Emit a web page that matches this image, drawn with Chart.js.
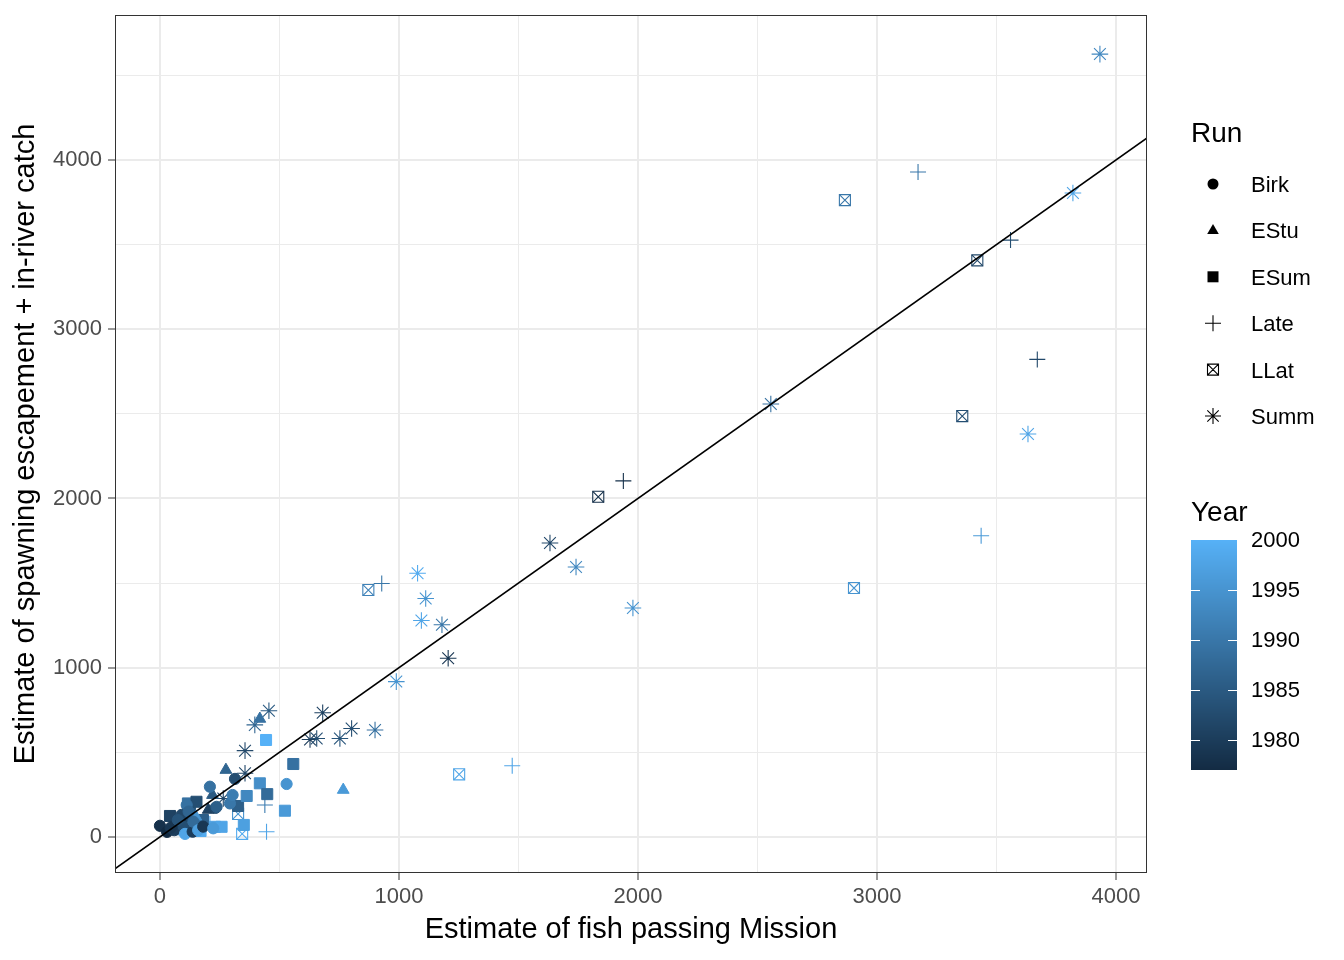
<!DOCTYPE html>
<html>
<head>
<meta charset="utf-8">
<script src="https://cdn.jsdelivr.net/npm/chart.js@4.4.1/dist/chart.umd.min.js"></script>
<style>
  html, body { margin: 0; padding: 0; background: #fff; }
  #wrap { width: 1344px; height: 960px; }
</style>
</head>
<body>
<div id="wrap"><canvas id="mychart" width="1344" height="960"></canvas></div>
<script>
// data: mission estimate, spawning estimate, year

const runNames = ["Birk", "EStu", "ESum", "Late", "LLat", "Summ"];

const birkMission = [0, 30, 60, 90, 100, 105, 112, 137, 140, 160, 181, 209, 223, 233, 237, 293, 304, 314, 530, 45, 75, 120];
const birkSpawn = [66, 30, 40, 130, 60, 18, 189, 31, 90, 40, 61, 297, 51, 172, 178, 198, 248, 343, 313, 55, 100, 150];
const birkYear = [1978, 1977, 1980, 1982, 1983, 1998, 1989, 1980, 1988, 1997, 1979, 1989, 1996, 1982, 1986, 1990, 1991, 1983, 1995, 1979, 1984, 1987];

const estuMission = [84, 150, 202, 220, 276, 418, 767];
const estuSpawn = [112, 120, 160, 248, 396, 698, 278];
const estuYear = [1979, 1995, 1981, 1985, 1987, 1989, 1996];

const esumMission = [42, 63, 80, 112, 117, 126, 153, 180, 230, 258, 327, 351, 363, 418, 444, 449, 523, 558, 95, 170];
const esumSpawn = [124, 61, 90, 120, 198, 148, 208, 100, 60, 60, 183, 71, 242, 317, 573, 253, 155, 431, 45, 35];
const esumYear = [1981, 1980, 1985, 1982, 1989, 1984, 1983, 1986, 1997, 1998, 1986, 1997, 1993, 1994, 2000, 1988, 1996, 1989, 1994, 1999];

const lateMission = [209, 439, 446, 928, 1474, 1939, 3172, 3436, 3559, 3671];
const lateSpawn = [77, 189, 31, 1498, 421, 2104, 3929, 1780, 3527, 2822];
const lateYear = [1998, 1991, 1998, 1990, 1998, 1978, 1990, 1996, 1983, 1982];

const llatMission = [327, 344, 872, 1252, 1834, 2866, 2904, 3357, 3420];
const llatSpawn = [136, 18, 1459, 370, 2010, 3763, 1471, 2487, 3407];
const llatYear = [1995, 1999, 1992, 1998, 1978, 1990, 1995, 1983, 1982];

const summMission = [265, 356, 356, 397, 456, 628, 656, 681, 753, 802, 900, 989, 1078, 1094, 1112, 1180, 1206, 1632, 1741, 1979, 2556, 3632, 3820, 3933];
const summSpawn = [227, 376, 510, 662, 746, 576, 582, 734, 582, 641, 632, 918, 1558, 1279, 1409, 1254, 1056, 1737, 1595, 1353, 2558, 2381, 3805, 4626];
const summYear = [1982, 1982, 1982, 1987, 1985, 1980, 1983, 1981, 1984, 1983, 1989, 1995, 1999, 1998, 1995, 1990, 1979, 1982, 1993, 1995, 1989, 1998, 1998, 1993];

const refLine = [-300, 4300]; // y = x
const xTicks = [0, 1000, 2000, 3000, 4000];
const yTicks = [0, 1000, 2000, 3000, 4000];
const xGrid = [0, 500, 1000, 1500, 2000, 2500, 3000, 3500, 4000];
const yGrid = [0, 500, 1000, 1500, 2000, 2500, 3000, 3500, 4000, 4500];
const yearTicks = [1980, 1985, 1990, 1995, 2000];
const yearMin = 1977;
const yearMax = 2000;

// colour scale
const lowColor = [0x13, 0x2b, 0x43];
const highColor = [0x56, 0xb1, 0xf7];

function yearColor(yr) {
  let t = (yr - yearMin) / (yearMax - yearMin);
  t = Math.max(0, Math.min(1, t));
  const c = lowColor.map((v, k) => Math.round(v + (highColor[k] - v) * t));
  return "rgb(" + c[0] + "," + c[1] + "," + c[2] + ")";
}

function toPoints(xs, ys) {
  return xs.map((x, i) => ({ x: x, y: ys[i] }));
}

function runDataset(xs, ys, years, style, radius, filled) {
  return {
    data: toPoints(xs, ys),
    pointStyle: style,
    pointRadius: radius,
    pointBorderWidth: filled ? 1 : 1.1,
    pointBackgroundColor: filled ? (c) => yearColor(years[c.dataIndex]) : "rgba(0,0,0,0)",
    pointBorderColor: (c) => yearColor(years[c.dataIndex]),
    showLine: false,
  };
}

const FONT = "'Liberation Sans', Arial, sans-serif";

function drawSymbol(ctx, name, x, y, color) {
  ctx.save();
  ctx.fillStyle = color;
  ctx.strokeStyle = color;
  ctx.lineWidth = 1.1;
  ctx.beginPath();
  if (name === "Birk") {
    ctx.arc(x, y, 5.5, 0, Math.PI * 2);
    ctx.fill();
  } else if (name === "EStu") {
    ctx.moveTo(x, y - 6.5);
    ctx.lineTo(x + 5.8, y + 3.5);
    ctx.lineTo(x - 5.8, y + 3.5);
    ctx.closePath();
    ctx.fill();
  } else if (name === "ESum") {
    ctx.rect(x - 5.5, y - 5.5, 11, 11);
    ctx.fill();
  } else if (name === "Late") {
    ctx.moveTo(x - 8, y); ctx.lineTo(x + 8, y);
    ctx.moveTo(x, y - 8); ctx.lineTo(x, y + 8);
    ctx.stroke();
  } else if (name === "LLat") {
    ctx.rect(x - 5.5, y - 5.5, 11, 11);
    ctx.moveTo(x - 5.5, y - 5.5); ctx.lineTo(x + 5.5, y + 5.5);
    ctx.moveTo(x + 5.5, y - 5.5); ctx.lineTo(x - 5.5, y + 5.5);
    ctx.stroke();
  } else {
    ctx.moveTo(x - 8, y); ctx.lineTo(x + 8, y);
    ctx.moveTo(x, y - 8); ctx.lineTo(x, y + 8);
    ctx.moveTo(x - 5.7, y - 5.7); ctx.lineTo(x + 5.7, y + 5.7);
    ctx.moveTo(x + 5.7, y - 5.7); ctx.lineTo(x - 5.7, y + 5.7);
    ctx.stroke();
  }
  ctx.restore();
}

// panel border + legends (Run shapes, Year colourbar)
const ggLegend = {
  id: "ggLegend",
  afterDraw(chart) {
    const ctx = chart.ctx;
    const area = chart.chartArea;
    ctx.save();
    ctx.strokeStyle = "#333333";
    ctx.lineWidth = 1;
    ctx.strokeRect(area.left + 0.5, area.top + 0.5, area.right - area.left - 1, area.bottom - area.top - 1);

    const lx = area.right + 44;
    ctx.fillStyle = "#000";
    ctx.textBaseline = "middle";
    ctx.textAlign = "left";
    ctx.font = "28px " + FONT;
    ctx.fillText("Run", lx, 134);
    ctx.font = "22px " + FONT;
    runNames.forEach((name, i) => {
      const y = 184 + i * 46.4;
      drawSymbol(ctx, name, lx + 22, y, "#000");
      ctx.fillStyle = "#000";
      ctx.fillText(name, lx + 60, y + 2);
    });

    ctx.font = "28px " + FONT;
    ctx.fillText("Year", lx, 513);
    const barTop = 540, barBottom = 770, barLeft = lx, barW = 46;
    const perYear = (barBottom - barTop) / (yearMax - yearMin);
    for (let y = barTop; y < barBottom; y++) {
      const yr = yearMax - (y + 0.5 - barTop) / perYear;
      ctx.fillStyle = yearColor(yr);
      ctx.fillRect(barLeft, y, barW, 1);
    }
    ctx.strokeStyle = "#fff";
    ctx.lineWidth = 1;
    ctx.font = "22px " + FONT;
    yearTicks.forEach((yr) => {
      const y = barBottom - (yr - yearMin) * perYear;
      if (yr < yearMax) {
        ctx.beginPath();
        ctx.moveTo(barLeft, y + 0.5); ctx.lineTo(barLeft + 9, y + 0.5);
        ctx.moveTo(barLeft + barW - 9, y + 0.5); ctx.lineTo(barLeft + barW, y + 0.5);
        ctx.stroke();
      }
      ctx.fillStyle = "#000";
      ctx.fillText(String(yr), lx + 60, y + 1);
    });
    ctx.restore();
  },
};

const isMajor = (v, list) => list.includes(v);

var ctx = document.getElementById("mychart").getContext("2d");

var myChart = new Chart(ctx, {
  type: "scatter",
  data: {
    datasets: [
      runDataset(birkMission, birkSpawn, birkYear, "circle", 5.6, true),
      runDataset(estuMission, estuSpawn, estuYear, "triangle", 6.8, true),
      runDataset(esumMission, esumSpawn, esumYear, "rect", 7.8, true),
      runDataset(lateMission, lateSpawn, lateYear, "cross", 8, false),
      runDataset(llatMission, llatSpawn, llatYear, "rect", 7.8, false),
      runDataset(llatMission, llatSpawn, llatYear, "crossRot", 7.8, false),
      runDataset(summMission, summSpawn, summYear, "star", 8.3, false),
      {
        data: toPoints(refLine, refLine),
        showLine: true,
        pointRadius: 0,
        borderColor: "#000",
        borderWidth: 1.6,
        order: -1,
      },
    ],
  },
  options: {
    responsive: false,
    animation: false,
    events: [],
    layout: { padding: { top: 15, right: 197, bottom: 13, left: 0 } },
    plugins: { legend: { display: false }, tooltip: { enabled: false } },
    scales: {
      x: {
        type: "linear",
        min: -188,
        max: 4130,
        afterBuildTicks: (axis) => { axis.ticks = xGrid.map((v) => ({ value: v })); },
        afterFit: (axis) => {
          axis.height = 74;
          axis.paddingLeft = 0;
          axis.paddingRight = 0;
        },
        border: { display: false },
        grid: {
          color: "#EBEBEB",
          lineWidth: (c) => (isMajor(c.tick.value, xTicks) ? 2 : 1),
          tickLength: 7,
          tickWidth: 1,
          tickColor: (c) => (isMajor(c.tick.value, xTicks) ? "#333333" : "rgba(0,0,0,0)"),
        },
        ticks: {
          autoSkip: false,
          maxRotation: 0,
          padding: 4,
          color: "#4D4D4D",
          font: { family: FONT, size: 22 },
          callback: (v) => (isMajor(v, xTicks) ? String(v) : ""),
        },
        title: {
          display: true,
          text: "Estimate of fish passing Mission",
          color: "#000",
          font: { family: FONT, size: 29 },
          padding: { top: 0, bottom: 0 },
        },
      },
      y: {
        type: "linear",
        min: -213,
        max: 4857,
        afterBuildTicks: (axis) => { axis.ticks = yGrid.map((v) => ({ value: v })); },
        afterFit: (axis) => {
          axis.width = 115;
          axis.paddingTop = 0;
          axis.paddingBottom = 0;
        },
        border: { display: false },
        grid: {
          color: "#EBEBEB",
          lineWidth: (c) => (isMajor(c.tick.value, yTicks) ? 2 : 1),
          tickLength: 7,
          tickWidth: 1,
          tickColor: (c) => (isMajor(c.tick.value, yTicks) ? "#333333" : "rgba(0,0,0,0)"),
        },
        ticks: {
          autoSkip: false,
          padding: 6,
          color: "#4D4D4D",
          font: { family: FONT, size: 22 },
          callback: (v) => (isMajor(v, yTicks) ? String(v) : ""),
        },
        title: {
          display: true,
          text: "Estimate of spawning escapement + in-river catch",
          color: "#000",
          font: { family: FONT, size: 29 },
          padding: { top: 9, bottom: 0 },
        },
      },
    },
  },
  plugins: [ggLegend],
});
</script>
</body>
</html>
